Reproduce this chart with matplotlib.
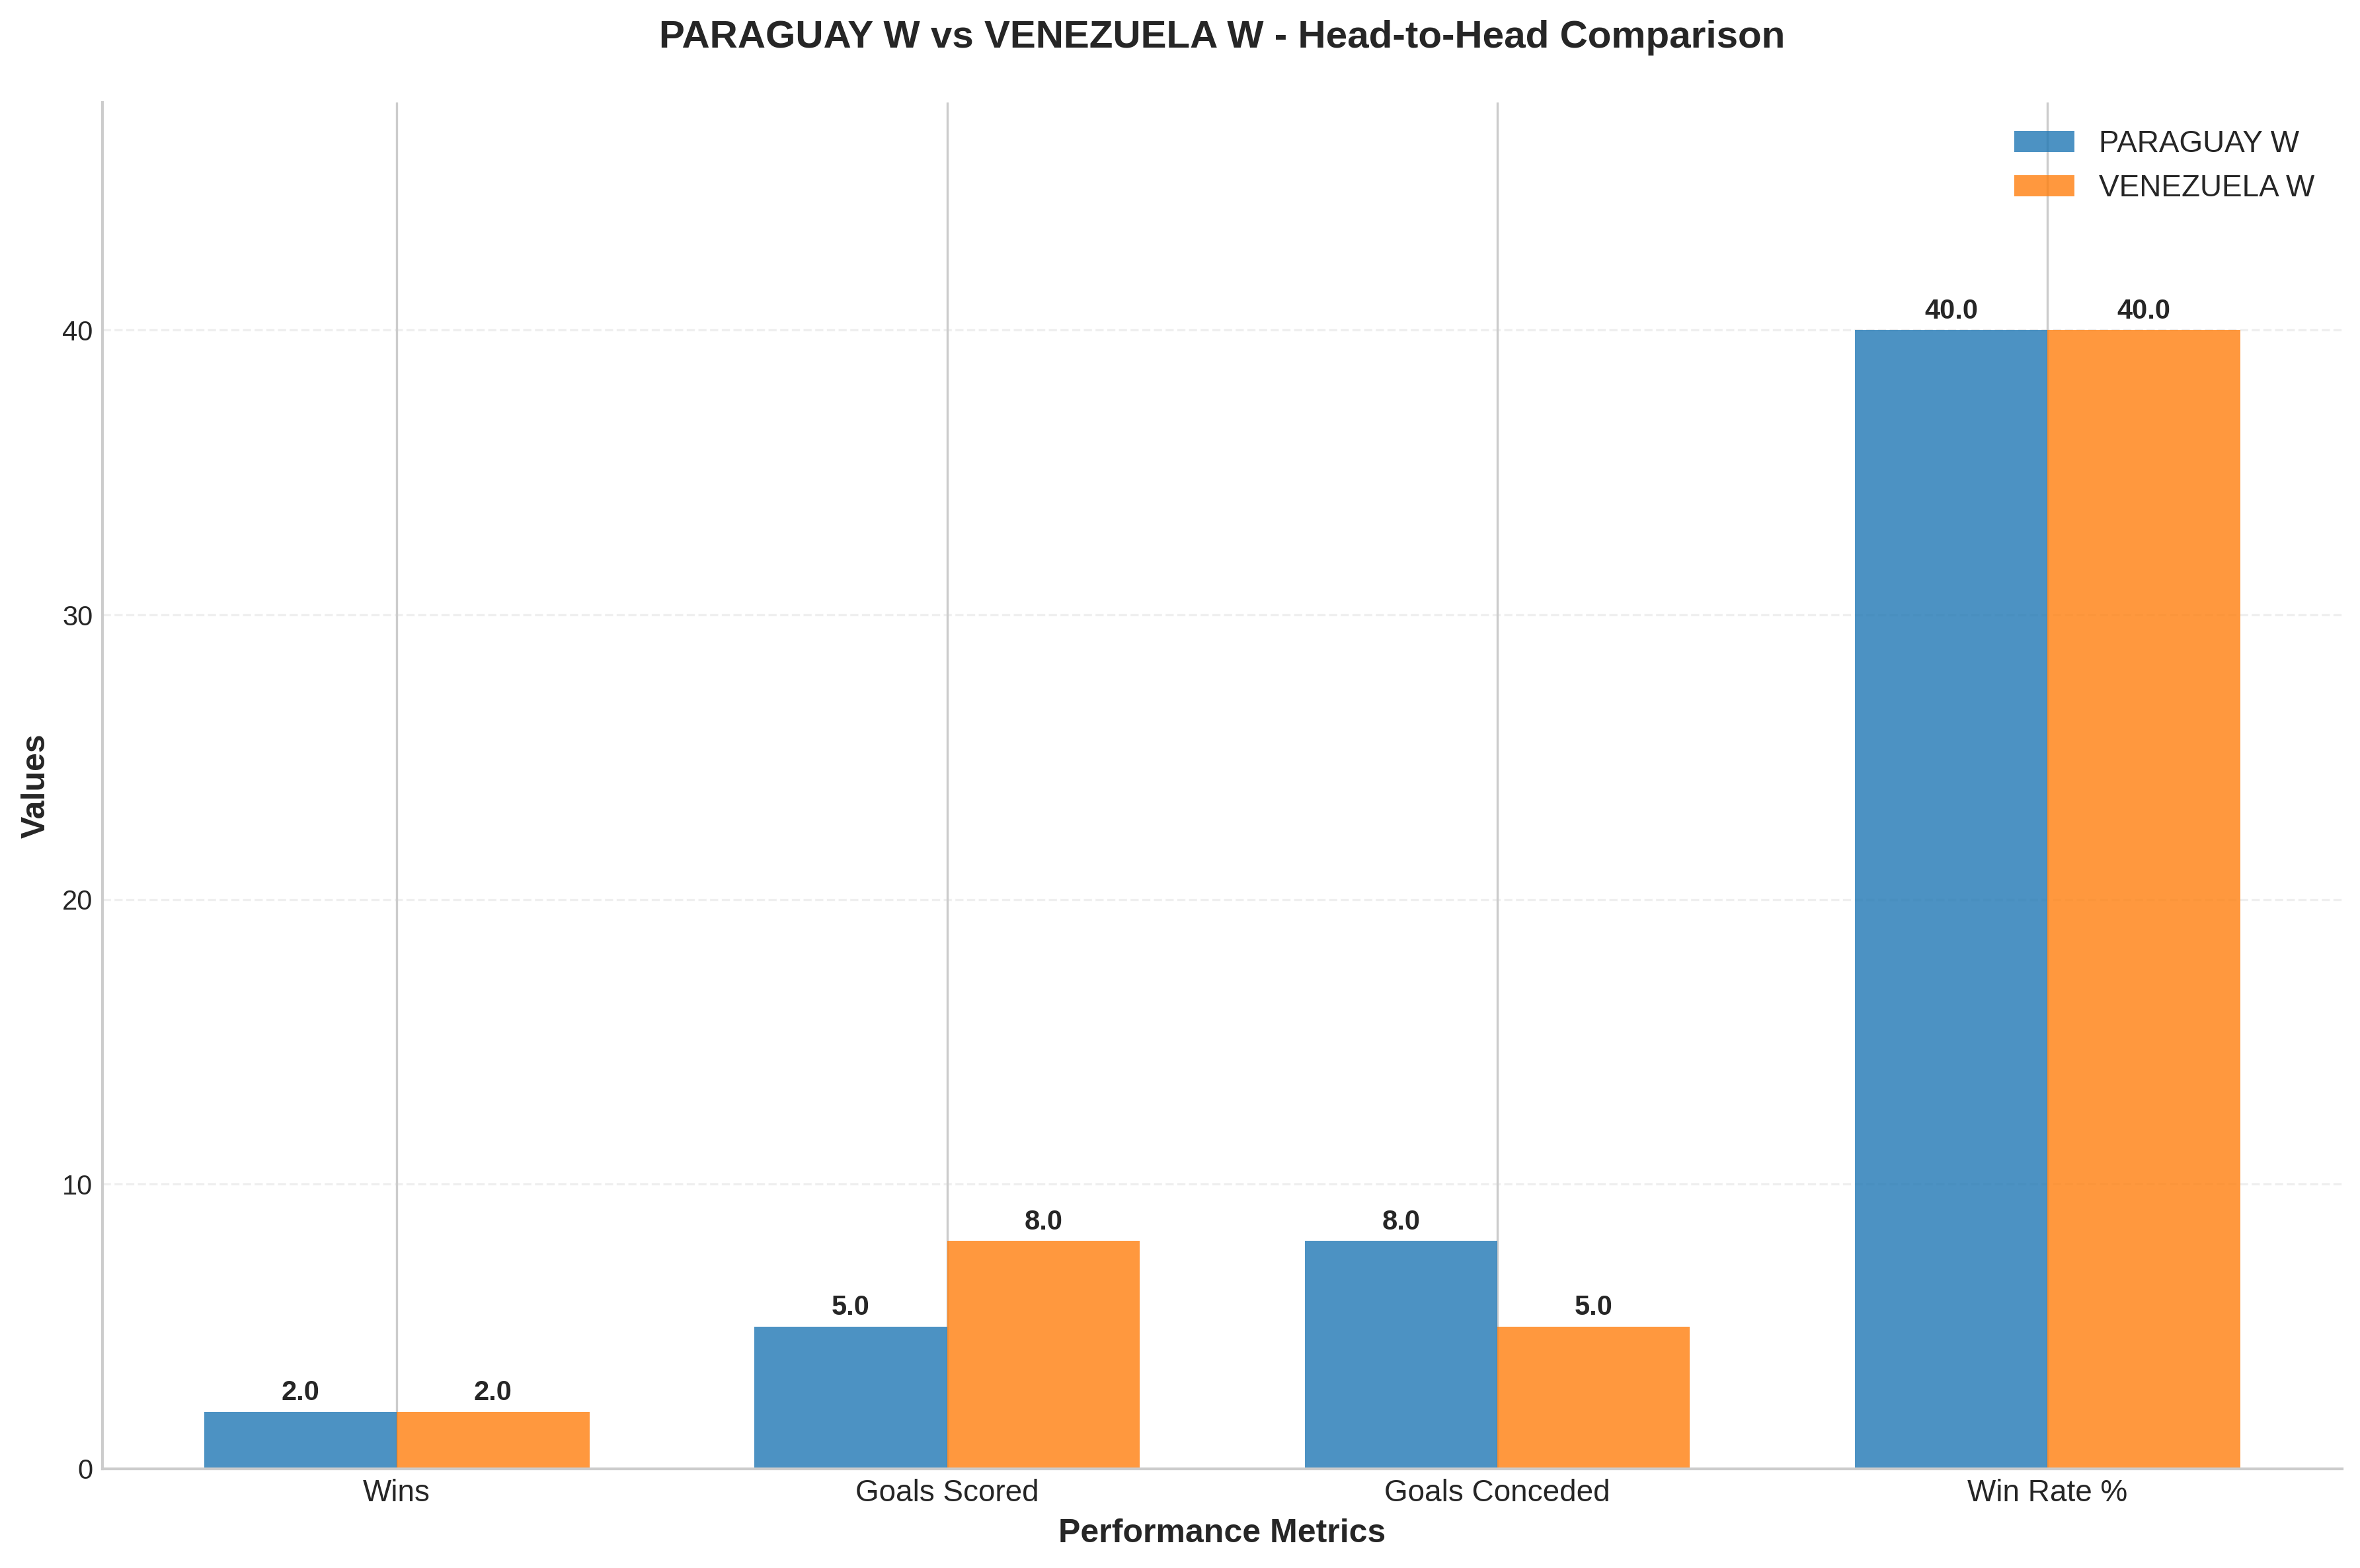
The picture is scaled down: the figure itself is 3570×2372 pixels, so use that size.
import numpy as np
import matplotlib
matplotlib.use("Agg")
import matplotlib.pyplot as plt

plt.style.use("seaborn-v0_8-whitegrid")
plt.rcParams['font.family'] = ['Liberation Sans', 'DejaVu Sans']

# data
metrics = ["Wins", "Goals Scored", "Goals Conceded", "Win Rate %"]
team1 = "PARAGUAY W"
team2 = "VENEZUELA W"
team1_vals = [2.0, 5.0, 8.0, 40.0]
team2_vals = [2.0, 8.0, 5.0, 40.0]

x = np.arange(len(metrics))
width = 0.35

fig, ax = plt.subplots(figsize=(11.9, 7.907), dpi=300)
fig.subplots_adjust(left=0.0434, right=0.9923, top=0.9347, bottom=0.0633)

bars1 = ax.bar(x - width/2, team1_vals, width, label=team1, color="#1f77b4", alpha=0.8)
bars2 = ax.bar(x + width/2, team2_vals, width, label=team2, color="#ff7f0e", alpha=0.8)

# value labels on top of bars
for bars in (bars1, bars2):
    for b in bars:
        h = b.get_height()
        ax.text(b.get_x() + b.get_width()/2, h + 0.2, f"{h:.1f}",
                ha="center", va="bottom", fontsize=10, fontweight="bold", color="#262626")

ax.set_xlabel("Performance Metrics", fontsize=12, fontweight="bold", color="#262626")
ax.set_ylabel("Values", fontsize=12, fontweight="bold", color="#262626")
ax.set_title(f"{team1} vs {team2} - Head-to-Head Comparison", fontsize=14,
             fontweight="bold", pad=20, color="#262626")
ax.set_xticks(x)
ax.set_xticklabels(metrics, fontsize=11)
ax.tick_params(axis="y", labelsize=10)
ax.tick_params(colors="#262626")
ax.set_ylim(0, max(max(team1_vals), max(team2_vals)) * 1.2)
ax.legend(fontsize=11, loc="upper right")
ax.grid(axis="y", alpha=0.3, linestyle="--")
ax.set_axisbelow(True)
ax.spines["top"].set_visible(False)
ax.spines["right"].set_visible(False)

fig.savefig("out.png", dpi=300)
